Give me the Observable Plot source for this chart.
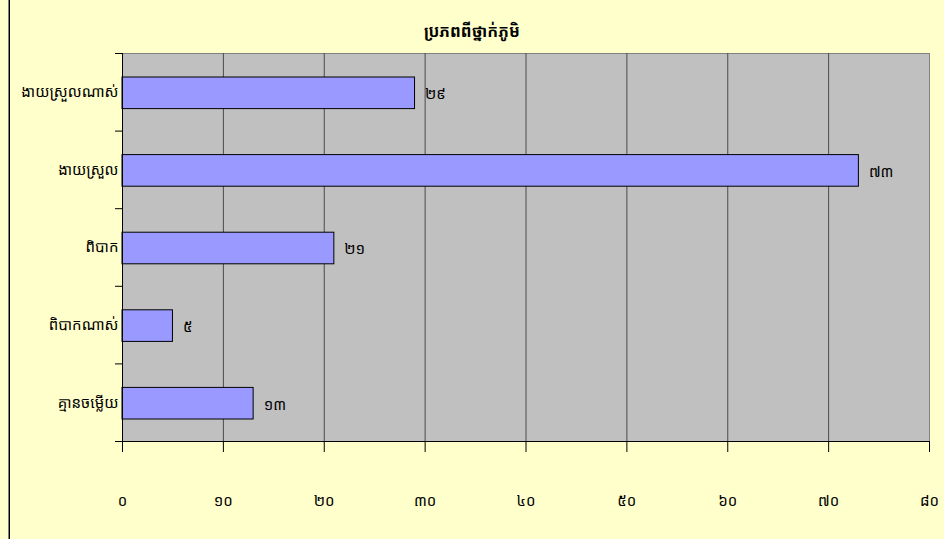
<!DOCTYPE html>
<html>
<head>
<meta charset="utf-8">
<script src="https://cdn.jsdelivr.net/npm/d3@7"></script>
<script src="https://cdn.jsdelivr.net/npm/@observablehq/plot@0.6"></script>
<style>
  html, body { margin: 0; padding: 0; background: #FFFFCC; width: 944px; height: 539px; overflow: hidden; }
  #wrap { position: relative; width: 944px; height: 539px; }
  #edge { position: absolute; left: 8px; top: 0; width: 0; height: 539px; border-left: 1px solid #808080; border-right: 1px solid #000; }
  #title { position: absolute; left: 0; top: 20px; width: 944px; text-align: center; font: bold 16px 'Khmer OS', 'Noto Sans Khmer', 'Noto Serif Khmer', sans-serif; color: #000; }
  svg { position: absolute; left: 0; top: 0; }
</style>
</head>
<body>
<div id="wrap">
  <div id="edge"></div>
  <div id="chart"></div>
  <div id="title">ប្រភពពីថ្នាក់ភូមិ</div>
</div>
<script>
const titleText = "ប្រភពពីថ្នាក់ភូមិ";
const categories = ["ងាយស្រួលណាស់", "ងាយស្រួល", "ពិបាក", "ពិបាកណាស់", "គ្មានចម្លើយ"];
const values = [29, 73, 21, 5, 13];
const valueLabels = ["២៩", "៧៣", "២១", "៥", "១៣"];
const xTicks = [0, 10, 20, 30, 40, 50, 60, 70, 80];
const xTickLabels = ["០", "១០", "២០", "៣០", "៤០", "៥០", "៦០", "៧០", "៨០"];

const data = categories.map((c, i) => ({cat: c, i, value: values[i], label: valueLabels[i]}));
const bandTicks = d3.range(categories.length + 1);
const centerTicks = categories.map((c, i) => i + 0.5);
const fontFamily = "'Khmer OS', 'Noto Sans Khmer', 'Noto Serif Khmer', sans-serif";

const chart = Plot.plot({
  width: 944,
  height: 539,
  marginLeft: 122,
  marginRight: 15,
  marginTop: 53,
  marginBottom: 98,
  style: {background: "transparent", fontFamily, fontSize: "14px", color: "#000"},
  x: {domain: [0, 80]},
  y: {domain: [0, categories.length], reverse: true},
  marks: [
    Plot.frame({fill: "#C0C0C0", stroke: "#808080", strokeWidth: 1}),
    Plot.ruleX(xTicks.slice(1, -1), {stroke: "#4a4a4a", strokeWidth: 1}),
    Plot.rectX(data, {
      x1: 0, x2: "value", y1: "i", y2: d => d.i + 1,
      insetTop: 24, insetBottom: 22,
      fill: "#9999FF", stroke: "#000", strokeWidth: 1
    }),
    Plot.text(data, {
      x: "value", y: d => d.i + 0.5, text: "label",
      textAnchor: "start", dx: 10, dy: 2, fontSize: 15, fill: "#000"
    }),
    Plot.ruleY([categories.length], {stroke: "#000", strokeWidth: 1}),
    Plot.ruleX([0], {stroke: "#000", strokeWidth: 1}),
    Plot.axisX({
      ticks: xTicks, tickFormat: (d, i) => xTickLabels[xTicks.indexOf(d)],
      tickSize: 11, tickPadding: 43, fontSize: 15, stroke: "#000", label: null
    }),
    Plot.axisY({
      ticks: bandTicks, tickFormat: () => "", tickSize: 7, stroke: "#000", label: null
    }),
    Plot.axisY({
      ticks: centerTicks, tickFormat: d => categories[Math.floor(d)],
      tickSize: 0, tickPadding: 4, fontSize: 15, label: null
    })
  ]
});
document.getElementById("chart").appendChild(chart);
</script>
</body>
</html>
